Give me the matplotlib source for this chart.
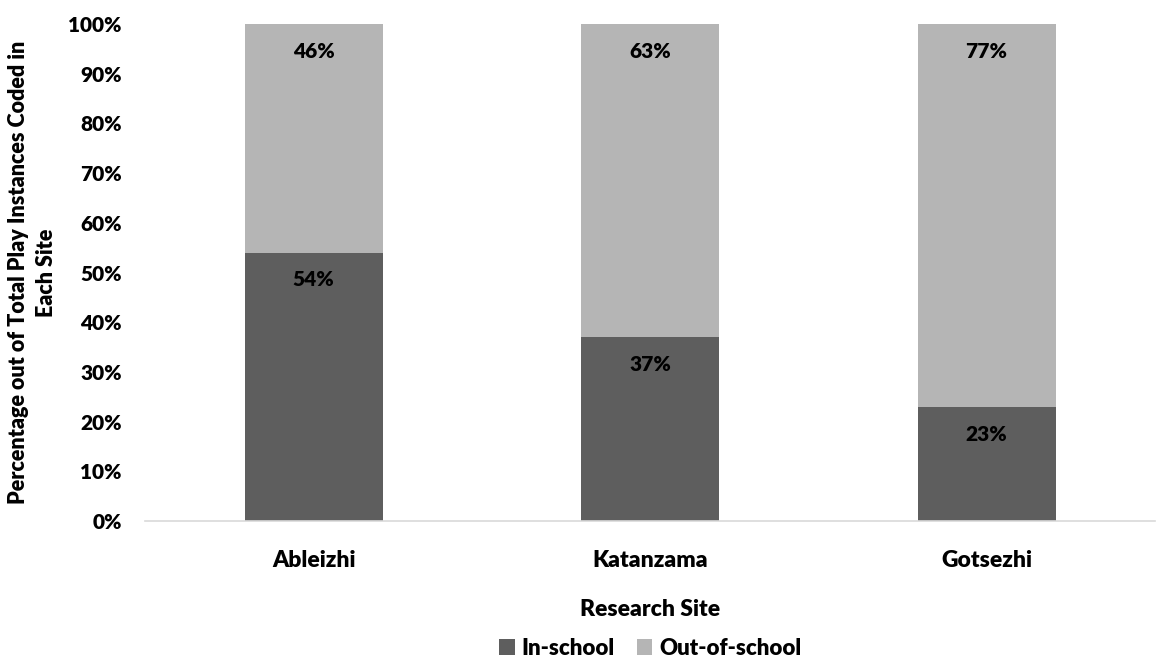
import numpy as np
import matplotlib.pyplot as plt
from matplotlib.ticker import PercentFormatter

sites = ['Ableizhi', 'Katanzama', 'Gotsezhi']
in_school = [54, 37, 23]
out_of_school = [46, 63, 77]

plt.rcParams['font.family'] = ['Lato', 'DejaVu Sans']
plt.rcParams['font.weight'] = 'heavy'

dark = '#5e5e5e'
light = '#b5b5b5'

fig = plt.figure(figsize=(11.63, 6.6), dpi=100)
ax = fig.add_axes([0.125, 0.2106, 0.868, 0.753])

x = np.arange(len(sites))
w = 0.41
ax.bar(x, in_school, w, color=dark, label='In-school', zorder=2)
ax.bar(x, out_of_school, w, bottom=in_school, color=light,
       label='Out-of-school', zorder=2)

# value labels sit just below the top of each segment
for i in range(len(sites)):
    ax.text(x[i], in_school[i] - 5.5, f'{in_school[i]}%', ha='center',
            va='center', fontsize=15, fontweight='heavy', color='black')
    ax.text(x[i], in_school[i] + out_of_school[i] - 5.5,
            f'{out_of_school[i]}%', ha='center', va='center', fontsize=15,
            fontweight='heavy', color='black')

ax.set_xlim(-0.5, 2.5)
ax.set_ylim(0, 100)
ax.set_yticks(np.arange(0, 101, 10))
ax.yaxis.set_major_formatter(PercentFormatter(decimals=0))
ax.set_xticks(x)
ax.set_xticklabels(sites)
ax.tick_params(axis='both', length=0)
ax.tick_params(axis='x', pad=21, labelsize=16.5)
ax.tick_params(axis='y', pad=17, labelsize=15)

for s in ['top', 'right', 'left']:
    ax.spines[s].set_visible(False)
ax.spines['bottom'].set_color('#d9d9d9')
ax.spines['bottom'].set_linewidth(1.2)

ax.set_xlabel('Research Site', fontsize=16.5, fontweight='heavy', labelpad=20)
ax.set_ylabel('Percentage out of Total Play Instances Coded in\nEach Site',
              fontsize=15.5, fontweight='heavy', labelpad=8, linespacing=1.45)

ax.legend(loc='center', bbox_to_anchor=(0.5, -0.256), ncol=2,
          frameon=False, fontsize=16, handlelength=0.7, handleheight=0.7,
          handletextpad=0.3, columnspacing=1.0, borderpad=0.1)

fig.savefig('out.png', dpi=100)
